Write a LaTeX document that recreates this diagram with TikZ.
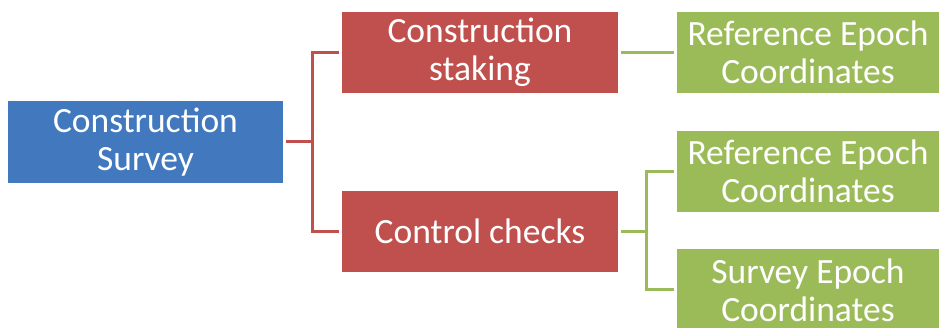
\documentclass[tikz,border=0pt]{standalone}
\usepackage{fontspec}
\setmainfont{Carlito}
\usepackage{tikz}
\definecolor{surveyblue}{HTML}{4279BE}
\definecolor{taskred}{HTML}{C0504D}
\definecolor{coordgreen}{HTML}{9BBB59}

\begin{document}
\begin{tikzpicture}[x=1pt,y=-1pt,
	every node/.style={text=white,align=center,inner sep=0pt,outer sep=3pt,
		font=\fontsize{35.5}{38}\selectfont},
	topbox/.style={fill=surveyblue,minimum width=275pt,minimum height=82pt},
	midbox/.style={fill=taskred,minimum width=276pt,minimum height=81pt},
	leafbox/.style={fill=coordgreen,minimum width=262pt,minimum height=81pt},
	redlink/.style={draw=taskred,line width=3pt},
	greenlink/.style={draw=coordgreen,line width=3pt}]
	\useasboundingbox (0,0) rectangle (939,328);
	\node[topbox] (survey) at (145.5,142) {Construction\\Survey};
	\node[midbox] (staking) at (480,52.5) {Construction\\staking};
	\node[midbox] (checks) at (480,231.5) {Control checks};
	\node[leafbox] (refA) at (808,52.5) {Reference Epoch\\Coordinates};
	\node[leafbox] (refB) at (808,171.5) {Reference Epoch\\Coordinates};
	\node[leafbox] (epoch) at (808,290) {Survey Epoch\\Coordinates};
	\draw[redlink] (survey.east) -- ++(26,0) coordinate (fork) |- (staking.west);
	\draw[redlink] (fork) |- (checks.west);
	\draw[greenlink] (staking.east) -- (refA.west);
	\draw[greenlink] (checks.east) -- ++(25,0) coordinate (split) |- (refB.west);
	\draw[greenlink] (split) |- (epoch.west);
\end{tikzpicture}
\end{document}
